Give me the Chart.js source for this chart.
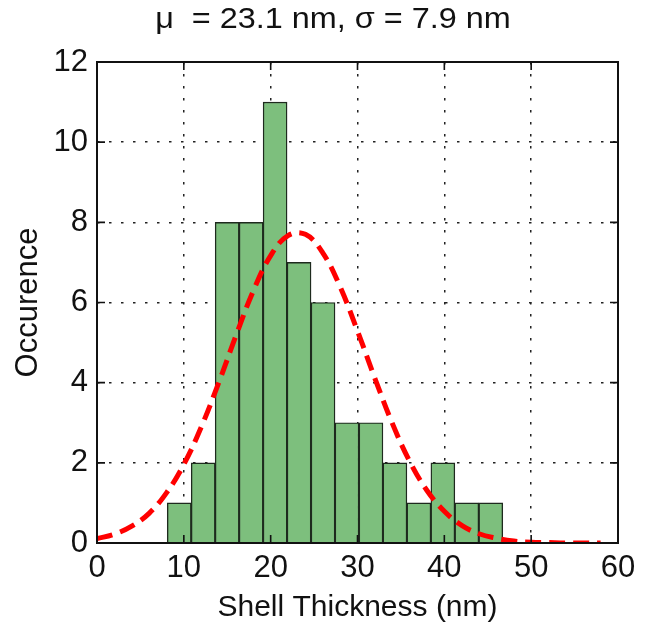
<!DOCTYPE html>
<html>
<head>
<meta charset="utf-8">
<script src="https://cdn.jsdelivr.net/npm/chart.js@4"></script>
<style>
  html, body { margin: 0; padding: 0; background: #fff; }
  #wrap { width: 650px; height: 632px; }
</style>
</head>
<body>
<div id="wrap"><canvas id="myChart"></canvas></div>
<script>
// histogram bins (centres in nm) and counts
const binCenters = [9.47, 12.23, 14.99, 17.75, 20.51, 23.27, 26.03, 28.79, 31.55, 34.31, 37.07, 39.83, 42.59, 45.35];
const counts = [1, 2, 8, 8, 11, 7, 6, 3, 3, 2, 1, 2, 1, 1];

// red dashed fit curve, read at every 2 nm
const fitX = [0, 2, 4, 6, 8, 10, 12, 14, 16, 18, 20, 22, 24, 26, 28, 30, 32, 34, 36, 38, 40, 42, 44, 46, 48, 50, 52, 54, 56, 58];
const fitY = [0.11, 0.22, 0.42, 0.74, 1.25, 1.96, 2.89, 3.99, 5.17, 6.29, 7.17, 7.67, 7.70, 7.24, 6.39, 5.29, 4.11, 2.99, 2.04, 1.31, 0.79, 0.44, 0.23, 0.12, 0.05, 0.02, 0.01, 0, 0, 0];

const xTicks = [0, 10, 20, 30, 40, 50, 60];
const yTicks = [0, 2, 4, 6, 8, 10, 12];

const titleText = "μ  = 23.1 nm, σ = 7.9 nm";

const tickFont = { size: 31, family: "Liberation Sans" };

// frame, inward tick marks and the title line
const framePlugin = {
  id: "frame",
  afterDraw(chart) {
    const { ctx, chartArea: a, scales } = chart;
    const x = scales.x, y = scales.y;
    ctx.save();
    ctx.strokeStyle = "#111";
    ctx.lineWidth = 1.6;
    ctx.beginPath();
    xTicks.forEach((v) => {
      const px = x.getPixelForValue(v);
      ctx.moveTo(px, a.bottom); ctx.lineTo(px, a.bottom - 8);
      ctx.moveTo(px, a.top); ctx.lineTo(px, a.top + 8);
    });
    yTicks.forEach((v) => {
      const py = y.getPixelForValue(v);
      ctx.moveTo(a.left, py); ctx.lineTo(a.left + 8, py);
      ctx.moveTo(a.right, py); ctx.lineTo(a.right - 8, py);
    });
    ctx.stroke();
    ctx.lineWidth = 2;
    ctx.strokeRect(a.left, a.top, a.right - a.left, a.bottom - a.top);

    // title is a little wider than plain Liberation Sans in the original
    ctx.fillStyle = "#111";
    ctx.font = '30px "Liberation Sans"';
    ctx.textAlign = "center";
    ctx.textBaseline = "alphabetic";
    ctx.translate(333, 28);
    ctx.scale(1.08, 1);
    ctx.fillText(titleText, 0, 0);
    ctx.restore();
  },
};

const ctx = document.getElementById("myChart").getContext("2d");

new Chart(ctx, {
  type: "bar",
  data: {
    datasets: [
      {
        type: "line",
        label: "fit",
        data: fitX.map((v, i) => ({ x: v, y: fitY[i] })),
        borderColor: "#ff0000",
        borderWidth: 5,
        borderDash: [16, 8],
        pointRadius: 0,
        tension: 0.4,
        fill: false,
        order: 0,
      },
      {
        label: "counts",
        data: binCenters.map((v, i) => ({ x: v, y: counts[i] })),
        backgroundColor: "#7dbf7d",
        borderColor: "#1e2a1e",
        borderWidth: 1.4,
        barPercentage: 1,
        categoryPercentage: 1,
        order: 1,
      },
    ],
  },
  options: {
    responsive: true,
    maintainAspectRatio: false,
    animation: false,
    layout: {
      padding: { top: 62, right: 32, left: 0, bottom: 0 },
    },
    plugins: {
      legend: { display: false },
      tooltip: { enabled: false },
      title: { display: false },
    },
    scales: {
      x: {
        type: "linear",
        min: 0,
        max: 60,
        offset: false,
        z: 1,
        afterFit: (s) => { s.height = 89; },
        ticks: {
          stepSize: 10,
          color: "#111",
          padding: 7,
          font: tickFont,
          maxRotation: 0,
        },
        grid: {
          color: "#222",
          lineWidth: 1.5,
          drawTicks: false,
          offset: false,
        },
        border: { display: false, dash: [2.5, 9.5] },
        title: {
          display: true,
          text: "Shell Thickness (nm)",
          color: "#111",
          font: { size: 30, family: "Liberation Sans" },
          padding: { top: 4, bottom: 6 },
        },
      },
      y: {
        type: "linear",
        min: 0,
        max: 12,
        z: 1,
        afterFit: (s) => { s.width = 97; },
        ticks: {
          stepSize: 2,
          color: "#111",
          padding: 9,
          font: tickFont,
        },
        grid: {
          color: "#222",
          lineWidth: 1.5,
          drawTicks: false,
        },
        border: { display: false, dash: [2.5, 9.5] },
        title: {
          display: true,
          text: "Occurence",
          color: "#111",
          font: { size: 31, family: "Liberation Sans" },
          padding: { top: 10, bottom: 0 },
        },
      },
    },
  },
  plugins: [framePlugin],
});
</script>
</body>
</html>
